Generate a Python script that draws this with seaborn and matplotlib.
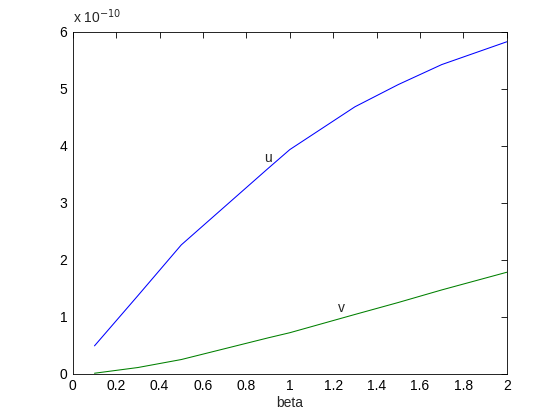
import matplotlib
matplotlib.use("Agg")
import matplotlib.pyplot as plt
import seaborn as sns
import pandas as pd

# values, in units of 1e-10
beta = [0.1, 0.2, 0.3, 0.5, 0.7, 0.9, 1.0, 1.3, 1.5, 1.7, 2.0]
u = [0.49, 0.93, 1.37, 2.26, 2.93, 3.60, 3.93, 4.68, 5.07, 5.42, 5.82]
v = [0.01, 0.06, 0.11, 0.25, 0.44, 0.63, 0.72, 1.04, 1.25, 1.47, 1.78]

df = pd.DataFrame({"beta": beta, "u": u, "v": v})

sns.set_style("white")
plt.rcParams["font.family"] = ["Liberation Sans", "DejaVu Sans"]

fig = plt.figure(figsize=(5.6, 4.2), dpi=100)
ax = fig.add_axes([0.13, 0.11, 0.775, 0.815])

sns.lineplot(data=df, x="beta", y="u", color=(0, 0, 1), linewidth=0.75, ax=ax)
sns.lineplot(data=df, x="beta", y="v", color=(0, 0.5, 0), linewidth=0.75, ax=ax)

ax.set_xlim(0, 2)
ax.set_ylim(0, 6)
ax.set_xticks([0, 0.2, 0.4, 0.6, 0.8, 1, 1.2, 1.4, 1.6, 1.8, 2])
ax.set_xticklabels(["0", "0.2", "0.4", "0.6", "0.8", "1", "1.2", "1.4", "1.6", "1.8", "2"])
ax.set_yticks(range(0, 7))
ax.tick_params(direction="in", length=4, width=0.6, top=True, right=True,
               labelsize=10, pad=4, colors="black")
for s in ax.spines.values():
    s.set_color("black")
    s.set_linewidth(0.6)

ax.set_xlabel("beta", fontsize=10, labelpad=2)
ax.set_ylabel("")
ax.text(0.0, 1.015, r"x 10$^{-10}$", transform=ax.transAxes, fontsize=10,
        ha="left", va="bottom")

ax.text(0.88, 3.72, "u", fontsize=10)
ax.text(1.22, 1.08, "v", fontsize=10)

fig.savefig("out.png", dpi=100)
